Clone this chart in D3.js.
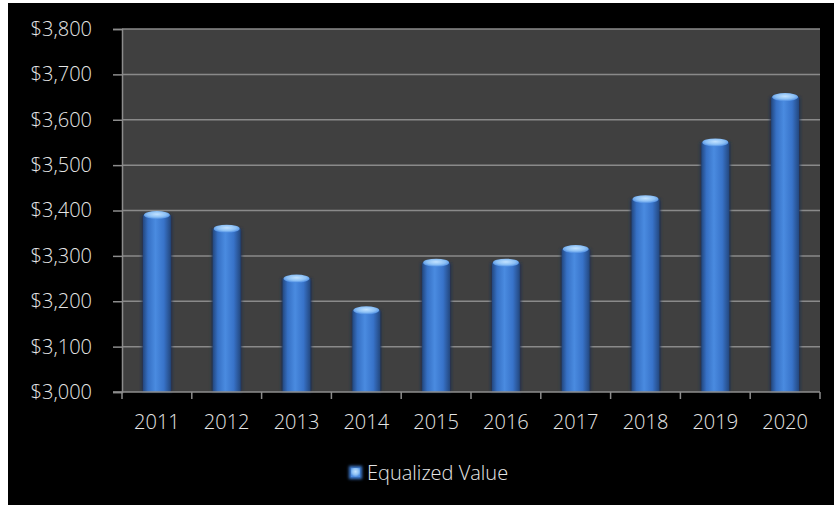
<!DOCTYPE html>
<html>
<head>
<meta charset="utf-8">
<script src="https://cdn.jsdelivr.net/npm/d3@7"></script>
<style>
body{margin:0;background:#fff;}
svg{display:block;}
text{font-family:"Open Sans","Noto Sans",sans-serif;font-weight:300;fill:#e6e6e6;}
</style>
</head>
<body>
<svg id="chart" width="834" height="505"></svg>
<script>
// chart data
var years=["2011","2012","2013","2014","2015","2016","2017","2018","2019","2020"];
var equalizedValue=[3390,3360,3250,3180,3285,3285,3315,3425,3550,3650];
var yTicks=[3000,3100,3200,3300,3400,3500,3600,3700,3800];
var seriesName="Equalized Value";

var W=834,H=505;
var plot={left:122,right:820,top:29,bottom:392};
var fontSize="20px";

var svg=d3.select("#chart");
svg.append("rect").attr("width",W).attr("height",H).attr("fill","#fff");
svg.append("rect").attr("x",8).attr("y",3).attr("width",W-8).attr("height",H-3).attr("fill","#000");

var defs=svg.append("defs");
var cyl=defs.append("linearGradient").attr("id","cyl").attr("x1","0").attr("x2","1").attr("y1","0").attr("y2","0");
cyl.append("stop").attr("offset","0%").attr("stop-color","#23477e");
cyl.append("stop").attr("offset","18%").attr("stop-color","#3670c4");
cyl.append("stop").attr("offset","45%").attr("stop-color","#4a8be0");
cyl.append("stop").attr("offset","75%").attr("stop-color","#3873c9");
cyl.append("stop").attr("offset","100%").attr("stop-color","#23477e");
var cap=defs.append("radialGradient").attr("id","cap").attr("cx","50%").attr("cy","40%").attr("r","60%");
cap.append("stop").attr("offset","0%").attr("stop-color","#c2e2ff");
cap.append("stop").attr("offset","60%").attr("stop-color","#8cc0f5");
cap.append("stop").attr("offset","100%").attr("stop-color","#4c8be0");
var blur=defs.append("filter").attr("id","glow").attr("x","-30%").attr("y","-30%").attr("width","160%").attr("height","160%");
blur.append("feGaussianBlur").attr("stdDeviation","1.5");

var x=d3.scaleBand().domain(years).range([plot.left,plot.right]).paddingInner(0.6).paddingOuter(0.3);
var xb=d3.scaleBand().domain(years).range([plot.left,plot.right]);
var y=d3.scaleLinear().domain([3000,3800]).range([plot.bottom,plot.top]);

// plot area
svg.append("rect")
	.attr("x",plot.left).attr("y",plot.top)
	.attr("width",plot.right-plot.left).attr("height",plot.bottom-plot.top)
	.attr("fill","#404040");

// gridlines
svg.append("g").selectAll("line").data(yTicks.slice(1)).enter().append("line")
	.attr("x1",plot.left).attr("x2",plot.right)
	.attr("y1",function(d){return y(d);}).attr("y2",function(d){return y(d);})
	.attr("stroke","#8a8a8a").attr("stroke-width",1.5);

// bars
var bars=svg.append("g");
var rx=x.bandwidth()/2,ry=4;
bars.selectAll("rect.shadow").data(equalizedValue).enter().append("rect")
	.attr("x",function(d,i){return x(years[i])-1;})
	.attr("y",function(d){return y(d);})
	.attr("width",x.bandwidth()+2)
	.attr("height",function(d){return y(3000)-y(d);})
	.attr("fill","#1a2f52").attr("filter","url(#glow)");
bars.selectAll("rect.body").data(equalizedValue).enter().append("rect")
	.attr("x",function(d,i){return x(years[i]);})
	.attr("y",function(d){return y(d);})
	.attr("width",x.bandwidth())
	.attr("height",function(d){return y(3000)-y(d);})
	.attr("fill","url(#cyl)");
bars.selectAll("ellipse").data(equalizedValue).enter().append("ellipse")
	.attr("cx",function(d,i){return x(years[i])+rx;})
	.attr("cy",function(d){return y(d);})
	.attr("rx",rx-1).attr("ry",ry)
	.attr("fill","url(#cap)");

// y axis
var yAxis=d3.axisLeft(y).tickValues(yTicks).tickSize(9).tickPadding(21)
	.tickFormat(function(d){return "$"+d3.format(",")(d);});
var gy=svg.append("g").attr("transform","translate("+plot.left+",0)").call(yAxis);
gy.select(".domain").attr("stroke","#8c8c8c").attr("stroke-width",1.5);
gy.selectAll(".tick line").attr("stroke","#8c8c8c").attr("stroke-width",1.5);
gy.selectAll(".tick text").attr("fill","#e6e6e6").style("font-size",fontSize)
	.style("font-family","'Open Sans','Noto Sans',sans-serif").style("font-weight","300");

// x axis: ticks at category boundaries
svg.append("line").attr("x1",plot.left-9).attr("x2",plot.right)
	.attr("y1",plot.bottom).attr("y2",plot.bottom)
	.attr("stroke","#8c8c8c").attr("stroke-width",1.5);
var bounds=years.map(function(d){return xb(d);}).concat([plot.right]);
svg.append("g").selectAll("line").data(bounds).enter().append("line")
	.attr("x1",function(d){return d;}).attr("x2",function(d){return d;})
	.attr("y1",plot.bottom).attr("y2",plot.bottom+7)
	.attr("stroke","#8c8c8c").attr("stroke-width",1.5);
svg.append("g").selectAll("text").data(years).enter().append("text")
	.attr("x",function(d){return xb(d)+xb.bandwidth()/2;})
	.attr("y",429)
	.attr("text-anchor","middle")
	.style("font-size",fontSize)
	.text(function(d){return d;});

// legend
var lg=svg.append("g").attr("transform","translate(349,466)");
lg.append("rect").attr("x",0).attr("y",0).attr("width",13).attr("height",13)
	.attr("fill","#3f7fd6").attr("filter","url(#glow)");
lg.append("rect").attr("x",2).attr("y",2).attr("width",9).attr("height",9).attr("fill","url(#cap)");
lg.append("text").attr("x",18).attr("y",14).style("font-size",fontSize).text(seriesName);
</script>
</body>
</html>
